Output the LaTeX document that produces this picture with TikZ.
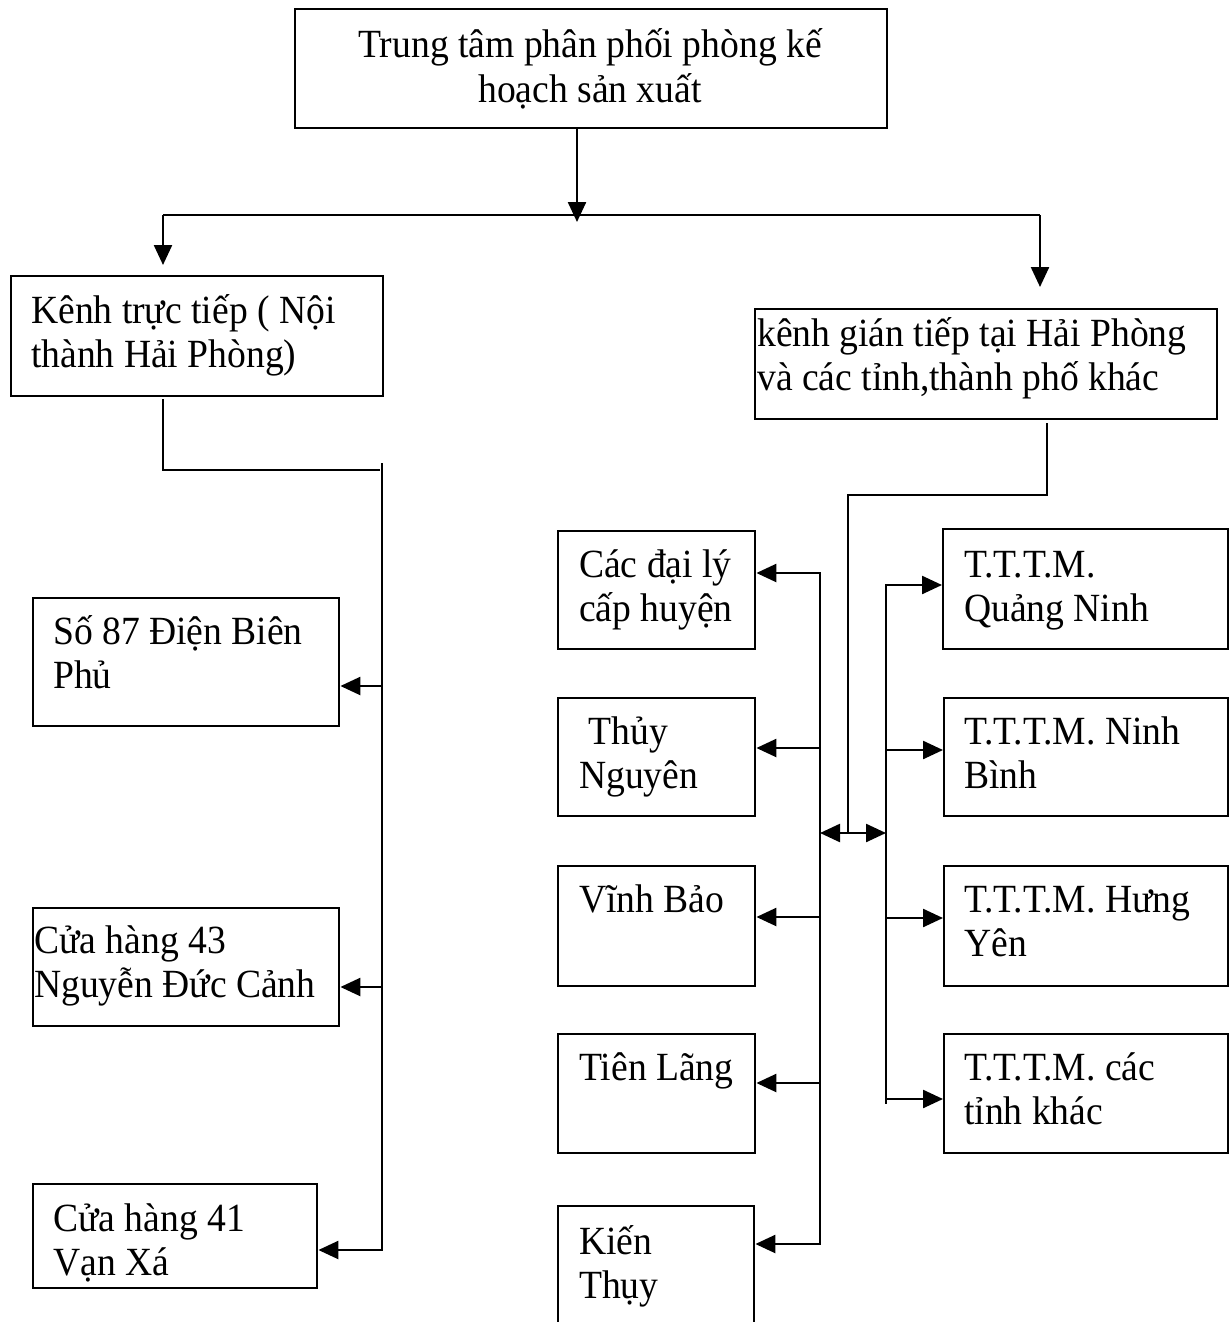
\documentclass[tikz,border=0pt]{standalone}
\usepackage{fontspec}
\setmainfont{Liberation Serif}[FakeStretch=0.94]
\usetikzlibrary{arrows.meta}
% stacked text lines; the box baseline is the baseline of the first line
\newcommand{\leftlines}[1]{\vtop{\halign{##\hfil\cr#1\crcr}}}
\newcommand{\centerlines}[1]{\vtop{\halign{\hfil##\hfil\cr#1\crcr}}}
\begin{document}
\begin{tikzpicture}[x=1pt,y=-1pt,line width=2.4pt,
  box/.style={draw,line width=2.4pt,inner sep=0pt,anchor=north west},
  txt/.style={anchor=base west,inner sep=0pt,font=\fontsize{40}{44}\selectfont},
  ctxt/.style={anchor=base,inner sep=0pt,font=\fontsize{40}{44}\selectfont},
  arr/.style={-{Triangle[length=20pt,width=18pt]}},
  darr/.style={{Triangle[length=20pt,width=18pt]}-{Triangle[length=20pt,width=18pt]}}]
\clip (0,0) rectangle (1229,1322);
\fill[white] (0,0) rectangle (1229,1322);

% ---- boxes ----
\node[box,minimum width=592pt,minimum height=119pt] (top) at (294,8) {};
\node[box,minimum width=372pt,minimum height=120pt] (direct) at (10,275) {};
\node[box,minimum width=462pt,minimum height=110pt] (indirect) at (754,308) {};

\node[box,minimum width=306pt,minimum height=128pt] (so87) at (32,597) {};
\node[box,minimum width=306pt,minimum height=118pt] (ch43) at (32,907) {};
\node[box,minimum width=284pt,minimum height=104pt] (ch41) at (32,1183) {};

\node[box,minimum width=197pt,minimum height=118pt] (daily) at (557,530) {};
\node[box,minimum width=197pt,minimum height=118pt] (thuy) at (557,697) {};
\node[box,minimum width=197pt,minimum height=120pt] (vinh) at (557,865) {};
\node[box,minimum width=197pt,minimum height=119pt] (tien) at (557,1033) {};
\node[box,minimum width=196pt,minimum height=140pt] (kien) at (557,1205) {};

\node[box,minimum width=285pt,minimum height=120pt] (qn) at (942,528) {};
\node[box,minimum width=284pt,minimum height=118pt] (nb) at (943,697) {};
\node[box,minimum width=284pt,minimum height=120pt] (hy) at (943,865) {};
\node[box,minimum width=284pt,minimum height=119pt] (ck) at (943,1033) {};

% ---- texts ----
\node[ctxt] (top-t) at (590,58) {\centerlines{Trung tâm phân phối phòng kế\cr hoạch sản xuất}};
\node[txt] (direct-t) at (30,323) {\leftlines{Kênh trực tiếp ( Nội\cr thành Hải Phòng)}};
\node[txt] (indirect-t) at (756,346) {\leftlines{kênh gián tiếp tại Hải Phòng\cr và các tỉnh,thành phố khác}};

\node[txt] (so87-t) at (52,644) {\leftlines{Số 87 Điện Biên\cr Phủ}};
\node[txt] (ch43-t) at (33,953) {\leftlines{Cửa hàng 43\cr Nguyễn Đức Cảnh}};
\node[txt] (ch41-t) at (52,1231) {\leftlines{Cửa hàng 41\cr Vạn Xá}};

\node[txt] (daily-t) at (578,577) {\leftlines{Các đại lý\cr cấp huyện}};
\node[txt] (thuy-t) at (578,744) {\leftlines{\ Thủy\cr Nguyên}};
\node[txt] (vinh-t) at (578,912) {Vĩnh Bảo};
\node[txt] (tien-t) at (578,1080) {Tiên Lãng};
\node[txt] (kien-t) at (578,1254) {\leftlines{Kiến\cr Thụy}};

\node[txt] (qn-t) at (963,577) {\leftlines{T.T.T.M.\cr Quảng Ninh}};
\node[txt] (nb-t) at (963,744) {\leftlines{T.T.T.M. Ninh\cr Bình}};
\node[txt] (hy-t) at (963,912) {\leftlines{T.T.T.M. Hưng\cr Yên}};
\node[txt] (ck-t) at (963,1080) {\leftlines{T.T.T.M. các\cr tỉnh khác}};

% ---- top split ----
\coordinate (splitTip) at (577,222);
\coordinate (busL) at (163,215);
\coordinate (busR) at (1040,215);
\coordinate (tipL) at (163,265);
\coordinate (tipR) at (1040,287);
\draw[arr] (top.south -| splitTip) -- (splitTip);
\draw (busL) -- (busR);
\draw[arr] (busL) -- (tipL);
\draw[arr] (busR) -- (tipR);

% ---- direct channel ----
\coordinate (dA) at (163,399);
\coordinate (dB) at (163,470);
\coordinate (dC) at (380,470);
\coordinate (vlTop) at (382,463);
\coordinate (vlBot) at (382,1251);
\draw (dA) -- (dB) -- (dC);
\draw (vlTop) -- (vlBot);
\coordinate (l1) at (382,686);
\coordinate (l2) at (382,987);
\coordinate (l3) at (382,1250);
\draw[arr] (l1) -- (so87.east |- l1);
\draw[arr] (l2) -- (ch43.east |- l2);
\draw[arr] (l3) -- (ch41.east |- l3);

% ---- indirect channel ----
\coordinate (iA) at (1047,423);
\coordinate (iB) at (1047,495);
\coordinate (iC) at (848,495);
\coordinate (iD) at (848,833);
\draw (iA) -- (iB) -- (iC) -- (iD);
\coordinate (dl) at (820,833);
\coordinate (dr) at (886,833);
\draw[darr] (dl) -- (dr);

\coordinate (vaTop) at (820,572);
\coordinate (vaBot) at (820,1245);
\draw (vaTop) -- (vaBot);
\coordinate (a1) at (820,573);
\coordinate (a2) at (820,748);
\coordinate (a3) at (820,917);
\coordinate (a4) at (820,1083);
\coordinate (a5) at (820,1244);
\draw[arr] (a1) -- (daily.east |- a1);
\draw[arr] (a2) -- (thuy.east |- a2);
\draw[arr] (a3) -- (vinh.east |- a3);
\draw[arr] (a4) -- (tien.east |- a4);
\draw[arr] (a5) -- (kien.east |- a5);

\coordinate (vbTop) at (886,584);
\coordinate (vbBot) at (886,1104);
\draw (vbTop) -- (vbBot);
\coordinate (b1) at (886,585);
\coordinate (b2) at (886,750);
\coordinate (b3) at (886,918);
\coordinate (b4) at (886,1099);
\draw[arr] (b1) -- (qn.west |- b1);
\draw[arr] (b2) -- (nb.west |- b2);
\draw[arr] (b3) -- (hy.west |- b3);
\draw[arr] (b4) -- (ck.west |- b4);
\end{tikzpicture}
\end{document}
